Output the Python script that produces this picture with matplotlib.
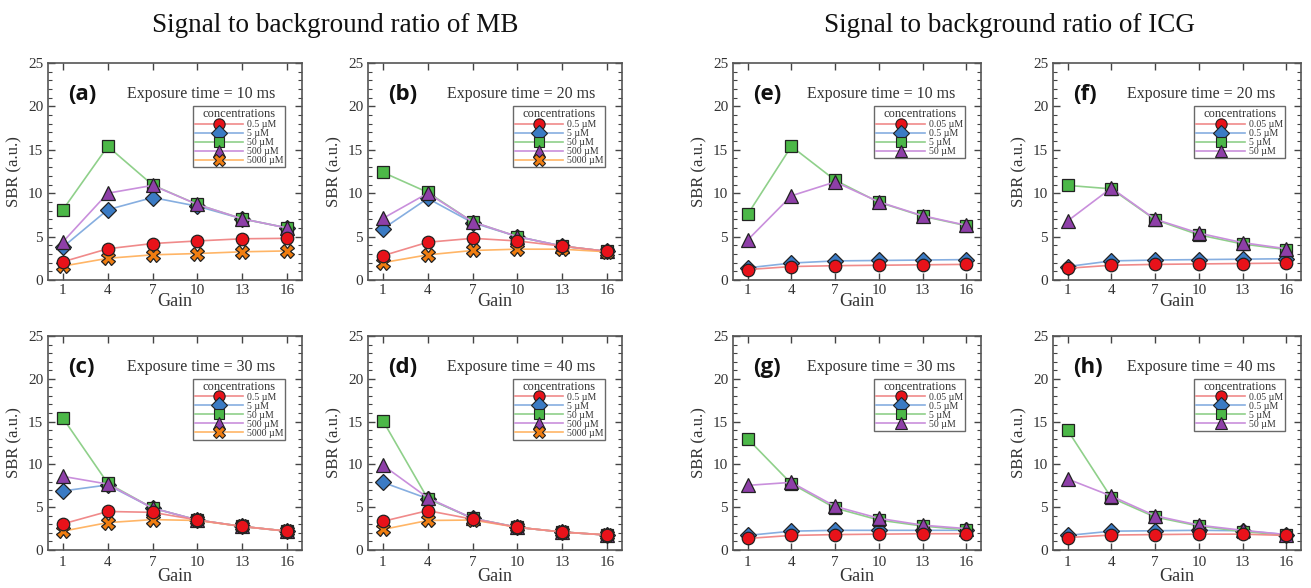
import matplotlib
matplotlib.use("Agg")
import matplotlib.pyplot as plt
from matplotlib.ticker import MultipleLocator, FixedLocator
from matplotlib.lines import Line2D

gain = [1, 4, 7, 10, 13, 16]

mb_labels = ["0.5 µM", "5 µM", "50 µM", "500 µM", "5000 µM"]
icg_labels = ["0.05 µM", "0.5 µM", "5 µM", "50 µM"]

# MB data: exposure 10, 20, 30, 40 ms
mb_10 = [
    [2.1, 3.6, 4.2, 4.5, 4.75, 4.8],
    [3.8, 8.1, 9.5, 8.5, 7.05, 6.0],
    [8.1, 15.4, 10.95, 8.7, 7.05, 6.0],
    [4.4, 10.0, 10.9, 8.7, 7.05, 6.0],
    [1.6, 2.5, 2.9, 3.05, 3.25, 3.35],
]
mb_20 = [
    [2.8, 4.35, 4.8, 4.5, 3.9, 3.3],
    [5.9, 9.4, 6.6, 5.0, 3.9, 3.3],
    [12.4, 10.1, 6.7, 5.0, 3.9, 3.3],
    [7.1, 10.0, 6.7, 5.0, 3.9, 3.3],
    [2.0, 2.9, 3.4, 3.55, 3.55, 3.25],
]
mb_30 = [
    [3.05, 4.5, 4.4, 3.5, 2.75, 2.2],
    [6.9, 7.6, 4.9, 3.5, 2.75, 2.2],
    [15.4, 7.8, 4.9, 3.5, 2.75, 2.2],
    [8.6, 7.7, 4.9, 3.5, 2.75, 2.2],
    [2.2, 3.2, 3.55, 3.45, 2.75, 2.2],
]
mb_40 = [
    [3.35, 4.6, 3.6, 2.65, 2.1, 1.75],
    [7.9, 6.0, 3.7, 2.65, 2.1, 1.75],
    [15.1, 6.0, 3.7, 2.65, 2.1, 1.75],
    [9.9, 6.1, 3.7, 2.65, 2.1, 1.75],
    [2.4, 3.45, 3.5, 2.65, 2.1, 1.75],
]

# ICG data: exposure 10, 20, 30, 40 ms
icg_10 = [
    [1.2, 1.55, 1.65, 1.7, 1.75, 1.8],
    [1.4, 1.95, 2.2, 2.25, 2.3, 2.35],
    [7.55, 15.4, 11.5, 8.95, 7.35, 6.25],
    [4.6, 9.7, 11.3, 9.0, 7.4, 6.3],
]
icg_20 = [
    [1.35, 1.7, 1.8, 1.85, 1.9, 1.95],
    [1.55, 2.2, 2.3, 2.35, 2.4, 2.45],
    [10.9, 10.5, 6.95, 5.2, 4.15, 3.5],
    [6.8, 10.6, 7.0, 5.4, 4.3, 3.6],
]
icg_30 = [
    [1.35, 1.7, 1.8, 1.85, 1.9, 1.9],
    [1.7, 2.2, 2.3, 2.3, 2.3, 2.3],
    [13.0, 7.75, 4.9, 3.5, 2.8, 2.35],
    [7.55, 7.9, 5.1, 3.7, 2.9, 2.5],
]
icg_40 = [
    [1.45, 1.75, 1.8, 1.85, 1.85, 1.7],
    [1.7, 2.2, 2.25, 2.3, 2.25, 1.8],
    [14.0, 6.1, 3.85, 2.8, 2.15, 1.75],
    [8.3, 6.3, 4.0, 2.9, 2.3, 1.8],
]

exposures = ["10", "20", "30", "40"]

marker_faces = ["#e8121a", "#3b7bc4", "#4cb848", "#8e3fa8", "#f07d10"]
line_colors = ["#f08a8a", "#86aee0", "#8fd08a", "#c98fdc", "#ffb566"]
markers = ["o", "D", "s", "^", "X"]
msizes = [9, 8.5, 8.5, 9.5, 9.5]

W, H = 1311, 588
fig = plt.figure(figsize=(W / 100, H / 100), dpi=100)

serif = "Liberation Serif"
sans = "Open Sans"


def make_ax(left, right, top, bottom):
    return fig.add_axes([left / W, 1 - bottom / H, (right - left) / W, (bottom - top) / H])


def draw(ax, data, labels, letter, exp, row):
    for i, ys in enumerate(data):
        ax.plot(gain, ys, color=line_colors[i], lw=1.2, marker=markers[i],
                ms=msizes[i], mfc=marker_faces[i], mec="#222222", mew=0.9,
                zorder=3.5 if i == 0 else 3)
    ax.set_xlim(0, 17)
    ax.set_ylim(0, 25)
    ax.xaxis.set_major_locator(FixedLocator(gain))
    ax.yaxis.set_major_locator(MultipleLocator(5))
    ax.yaxis.set_minor_locator(MultipleLocator(1))
    ax.tick_params(which="both", direction="in", top=True, right=True,
                   colors="#444444", labelcolor="#333333", labelsize=11)
    ax.tick_params(which="major", length=5, width=1.0)
    ax.tick_params(axis="x", which="major", pad=4 if row == 1 else 3)
    ax.tick_params(which="minor", length=3, width=0.8)
    for lab in ax.get_xticklabels() + ax.get_yticklabels():
        lab.set_fontfamily(serif)
    for s in ax.spines.values():
        s.set_color("#555555")
        s.set_linewidth(1.2)
    ax.set_xlabel("Gain", fontfamily=serif, fontsize=13, color="#333333",
                  labelpad=-0.5 if row == 1 else -3)
    ax.set_ylabel("SBR (a.u.)", fontfamily=serif, fontsize=12, color="#333333", labelpad=4)
    ax.text(0.08, 0.855, f"({letter})", transform=ax.transAxes, fontfamily=sans,
            fontweight="bold", fontsize=16, color="#111111", va="center")
    ax.text(0.895, 0.855, f"Exposure time = {exp} ms", transform=ax.transAxes,
            fontfamily=serif, fontsize=11.5, color="#333333", va="center", ha="right")
    handles = [Line2D([], [], color=line_colors[i], lw=1.2, marker=markers[i],
                      ms=msizes[i], mfc=marker_faces[i], mec="#222222", mew=0.8)
               for i in range(len(data))]
    leg = ax.legend(handles, labels, title="concentrations", loc="upper right",
                    bbox_to_anchor=(0.935, 0.80), prop={"family": serif, "size": 7},
                    title_fontproperties={"family": serif, "size": 9},
                    frameon=True, fancybox=False, edgecolor="#444444",
                    handlelength=5.0, handletextpad=0.4, labelspacing=0.0,
                    borderpad=0.2, borderaxespad=0.0, markerscale=0.9)
    leg.get_frame().set_linewidth(1.0)
    for t in leg.get_texts():
        t.set_color("#333333")
    leg.get_title().set_color("#333333")


col_lr = [(48, 302), (368, 622), (733, 981), (1053, 1301)]
row_tb = [(63, 280), (336, 550)]

panels = [
    (0, 0, mb_10, mb_labels, "a", exposures[0]),
    (1, 0, mb_20, mb_labels, "b", exposures[1]),
    (0, 1, mb_30, mb_labels, "c", exposures[2]),
    (1, 1, mb_40, mb_labels, "d", exposures[3]),
    (2, 0, icg_10, icg_labels, "e", exposures[0]),
    (3, 0, icg_20, icg_labels, "f", exposures[1]),
    (2, 1, icg_30, icg_labels, "g", exposures[2]),
    (3, 1, icg_40, icg_labels, "h", exposures[3]),
]

for c, r, d, labs, letter, exp in panels:
    l, rr = col_lr[c]
    t, b = row_tb[r]
    ax = make_ax(l, rr, t, b)
    draw(ax, d, labs, letter, exp, r)

fig.text(335 / W, 1 - 25 / H, "Signal to background ratio of MB", fontfamily=serif,
         fontsize=19.5, ha="center", va="center", color="#111111")
fig.text(1010 / W, 1 - 25 / H, "Signal to background ratio of ICG", fontfamily=serif,
         fontsize=19.5, ha="center", va="center", color="#111111")

fig.savefig("out.png", dpi=100, facecolor="white")
